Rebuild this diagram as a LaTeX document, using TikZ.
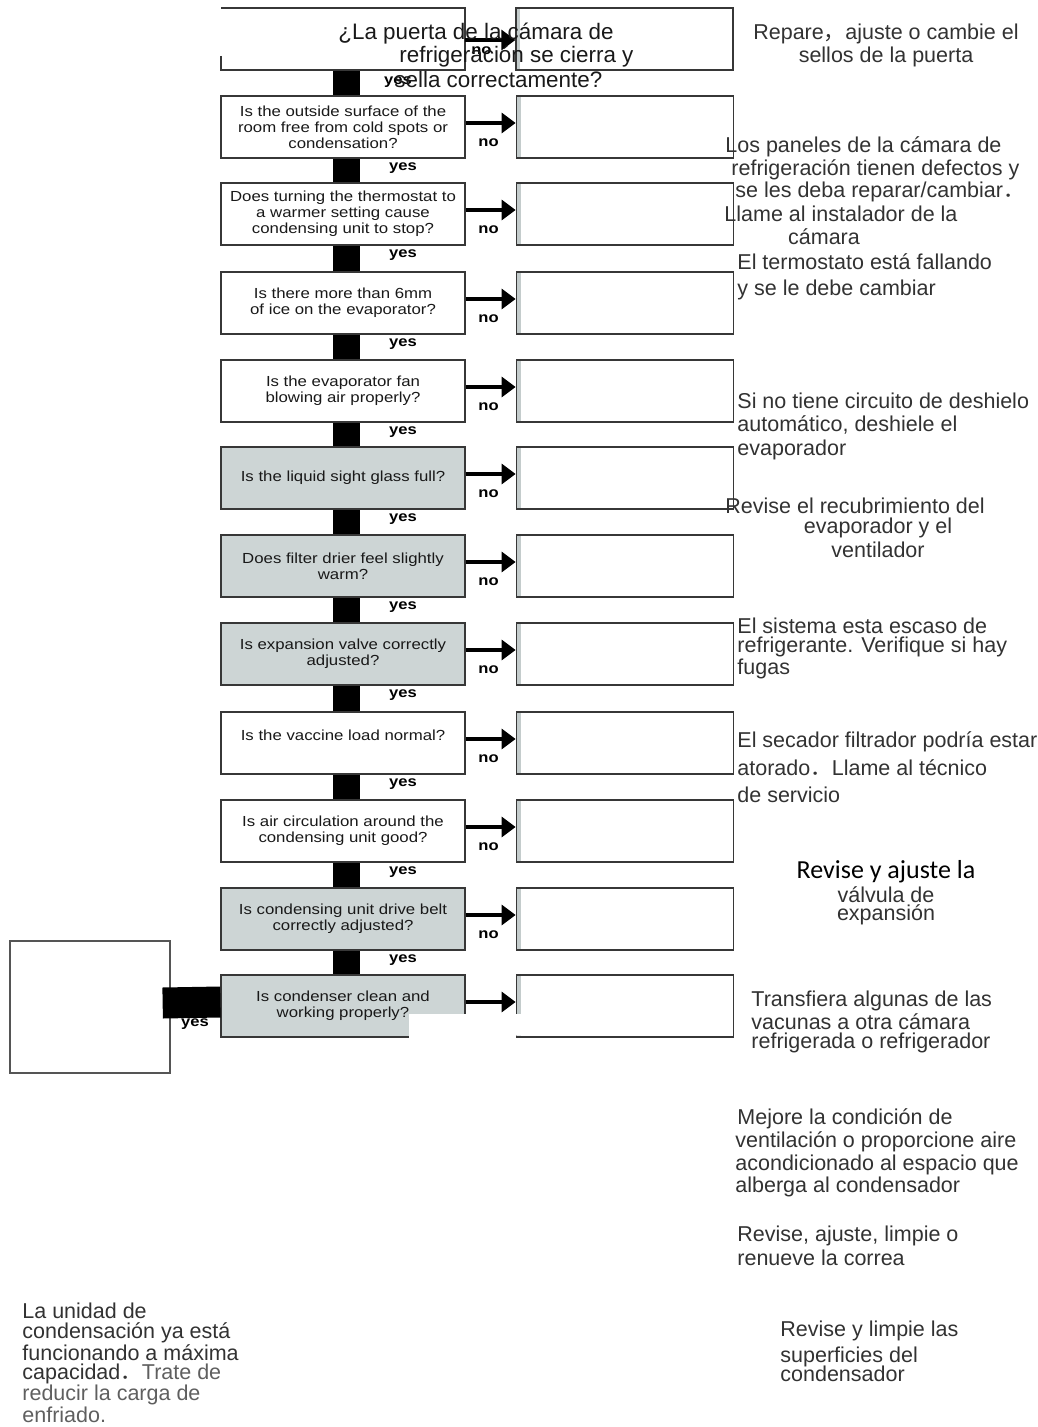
\documentclass[tikz,border=0pt]{standalone}
\usepackage{fontspec}
\setmainfont{Liberation Sans}
\newfontfamily\qfont[FakeStretch=1.15]{Liberation Sans}
\newfontfamily\cjk{Noto Sans CJK SC}
\newfontfamily\calib{Carlito}
\usetikzlibrary{arrows.meta,positioning}
\definecolor{qgrey}{RGB}{205,213,213}
\definecolor{stripgrey}{RGB}{196,204,204}
\definecolor{edge}{RGB}{55,55,55}
\definecolor{spgrey}{RGB}{50,50,50}
\definecolor{lightgrey}{RGB}{95,95,95}

\begin{document}
\begin{tikzpicture}[x=0.5pt,y=-0.5pt,
  qbox/.style={draw=edge,line width=0.6pt,fill=white,minimum width=122pt,minimum height=31pt,
    inner sep=0pt,align=center,font=\qfont\fontsize{7.3}{8}\selectfont,text=black!90},
  qgreybox/.style={qbox,fill=qgrey},
  abox/.style={draw=edge,line width=0.55pt,minimum width=108.5pt,minimum height=31pt,inner sep=0pt,
    path picture={\fill[stripgrey] (path picture bounding box.south west)
      rectangle ([xshift=2.2pt]path picture bounding box.north west);}},
  yesbar/.style={line width=13.5pt,black},
  noarr/.style={line width=1.6pt,black,-{Triangle[length=7pt,width=10pt]}},
  lbl/.style={font=\qfont\bfseries\fontsize{7.2}{8}\selectfont,inner sep=0pt},
  sp/.style={font=\fontsize{10.75}{12}\selectfont,text=spgrey,inner sep=0pt},
]
\useasboundingbox (0,0) rectangle (1037,1427);

% ---- yes bars (drawn under the boxes) ----
\foreach \i/\j/\ya/\yb in {1/2/70/96,2/3/158/183,3/4/245/272,4/5/334/360,5/6/422/447,
  6/7/509/535,7/8/597/623,8/9/685/712,9/10/774/800,10/11/862/888,11/12/950/975}{
  \draw[yesbar] (346,\ya) -- (346,\yb);
}

% ---- question boxes ----
\node[minimum width=122pt,minimum height=31pt,inner sep=0pt] (q1) at (343,39) {};
\draw[edge,line width=0.6pt] (221,56) -- (221,70) -- (465,70) -- (465,8) -- (221,8);
\node[qbox] (q2) at (343,127) {Is the outside surface of the\\room free from cold spots or\\condensation?};
\node[qbox] (q3) at (343,214) {Does turning the thermostat to\\a warmer setting cause\\condensing unit to stop?};
\node[qbox] (q4) at (343,303) {Is there more than 6mm\\of ice on the evaporator?};
\node[qbox] (q5) at (343,391) {Is the evaporator fan\\blowing air properly?};
\node[qgreybox] (q6) at (343,478) {Is the liquid sight glass full?};
\node[qgreybox] (q7) at (343,566) {Does filter drier feel slightly\\warm?};
\node[qgreybox] (q8) at (343,654) {Is expansion valve correctly\\adjusted?};
\node[qbox] (q9) at (343,743) {Is the vaccine load normal?\\\mbox{}};
\node[qbox] (q10) at (343,831) {Is air circulation around the\\condensing unit good?};
\node[qgreybox] (q11) at (343,919) {Is condensing unit drive belt\\correctly adjusted?};
\node[qgreybox] (q12) at (343,1006) {Is condenser clean and\\working properly?};

% ---- answer boxes, arrows and labels ----
\foreach \i in {1,...,12}{
  \node[abox,right=25pt of q\i] (a\i) {};
}
\draw[noarr] ([yshift=-0.5pt]q1.east) -- ([yshift=-0.5pt]a1.west);
\node[lbl] (no1) at ([xshift=8pt,yshift=-6pt]q1.east) {no};
\node[lbl] (yes1) at ([xshift=27.5pt,yshift=-6pt]q1.south) {yes};
\foreach \i in {2,...,12}{
  \draw[noarr] ([yshift=2pt]q\i.east) -- ([yshift=2pt]a\i.west);
}
\foreach \i in {2,...,11}{
  \node[lbl] (no\i) at ([xshift=11.5pt,yshift=-8pt]q\i.east) {no};
  \node[lbl] (yes\i) at ([xshift=30pt,yshift=-5pt]q\i.south) {yes};
}

% white patch over the last row
\fill[white] (409,1014) -- (521,1014) -- (521,1035.5) -- (512,1035.5) -- (512,1043) -- (409,1043) -- cycle;

% ---- left box ----
\node[draw=edge!85,line width=0.65pt,minimum width=80pt,minimum height=66pt,inner sep=0pt] (lb) at (90,1007) {};
\draw[line width=15.5pt] ([yshift=2pt]q12.west) -- ([xshift=-4pt,yshift=2pt]lb.east);
\node[lbl] (yes12) at (195,1024) {yes};

% ---- Spanish texts ----
\foreach \x/\y/\t [count=\n] in {338/34/{¿La puerta de la cámara de},
  399/57/{refrigeración se cierra y},394/80/{sella correctamente?}}{
  \node[sp,text=black!90,font=\fontsize{11.2}{12}\selectfont,anchor=west] (door\n) at (\x,\y) {\t};
}
\node[sp] (seal1) at (886,34) {Repare{\cjk ，}ajuste o cambie el};
\node[sp] (seal2) at (886,57) {sellos de la puerta};
\foreach \x/\y/\t [count=\n] in {725/147/{Los paneles de la cámara de},
  731/170/{refrigeración tienen defectos y},735/192/{se les deba reparar/cambiar{\cjk ．}},
  724/214/{Llame al instalador de la}}{
  \node[sp,anchor=west] (panel\n) at (\x,\y) {\t};
}
\node[sp] (panel5) at (824,237) {cámara};
\foreach \x/\y/\t [count=\n] in {737/262/{El termostato está fallando},737/290/{y se le debe cambiar},
  737/401/{Si no tiene circuito de deshielo},737/425/{automático, deshiele el},737/450/{evaporador}}{
  \node[sp,anchor=west] (thermo\n) at (\x,\y) {\t};
}
\node[sp,anchor=west] (coil1) at (725,506) {Revise el recubrimiento del};
\node[sp] (coil2) at (878,528) {evaporador y el};
\node[sp] (coil3) at (878,550) {ventilador};
\foreach \x/\y/\t [count=\n] in {737/626/{El sistema esta escaso de},737/647/{refrigerante. Verifique si hay},
  737/669/{fugas},737/742/{El secador filtrador podría estar},737/768/{atorado{\cjk ．}Llame al técnico},
  737/795/{de servicio}}{
  \node[sp,anchor=west] (refr\n) at (\x,\y) {\t};
}
\node[sp,text=black,font=\calib\fontsize{13}{14}\selectfont] (valve1) at (886,872) {Revise y ajuste la};
\node[sp] (valve2) at (886,895) {válvula de};
\node[sp] (valve3) at (886,915) {expansión};
\foreach \x/\y/\t [count=\n] in {751/1001/{Transfiera algunas de las},751/1022/{vacunas a otra cámara},
  751/1043/{refrigerada o refrigerador},737/1119/{Mejore la condición de},
  735/1142/{ventilación o proporcione aire},735/1165/{acondicionado al espacio que},
  735/1187/{alberga al condensador},737/1236/{Revise, ajuste, limpie o},737/1258/{renueve la correa},
  780/1331/{Revise y limpie las},780/1357/{superficies del},780/1374/{condensador}}{
  \node[sp,anchor=west] (fix\n) at (\x,\y) {\t};
}
\foreach \y/\t [count=\n] in {1311/{La unidad de},1333/{condensación ya está},1353/{funcionando a máxima},
  1374/{capacidad{\cjk ．}{\color{lightgrey}Trate de}},1395/{\color{lightgrey}reducir la carga de},
  1415/{\color{lightgrey}enfriado.}}{
  \node[sp,anchor=west] (load\n) at (22,\y) {\t};
}
\end{tikzpicture}
\end{document}
